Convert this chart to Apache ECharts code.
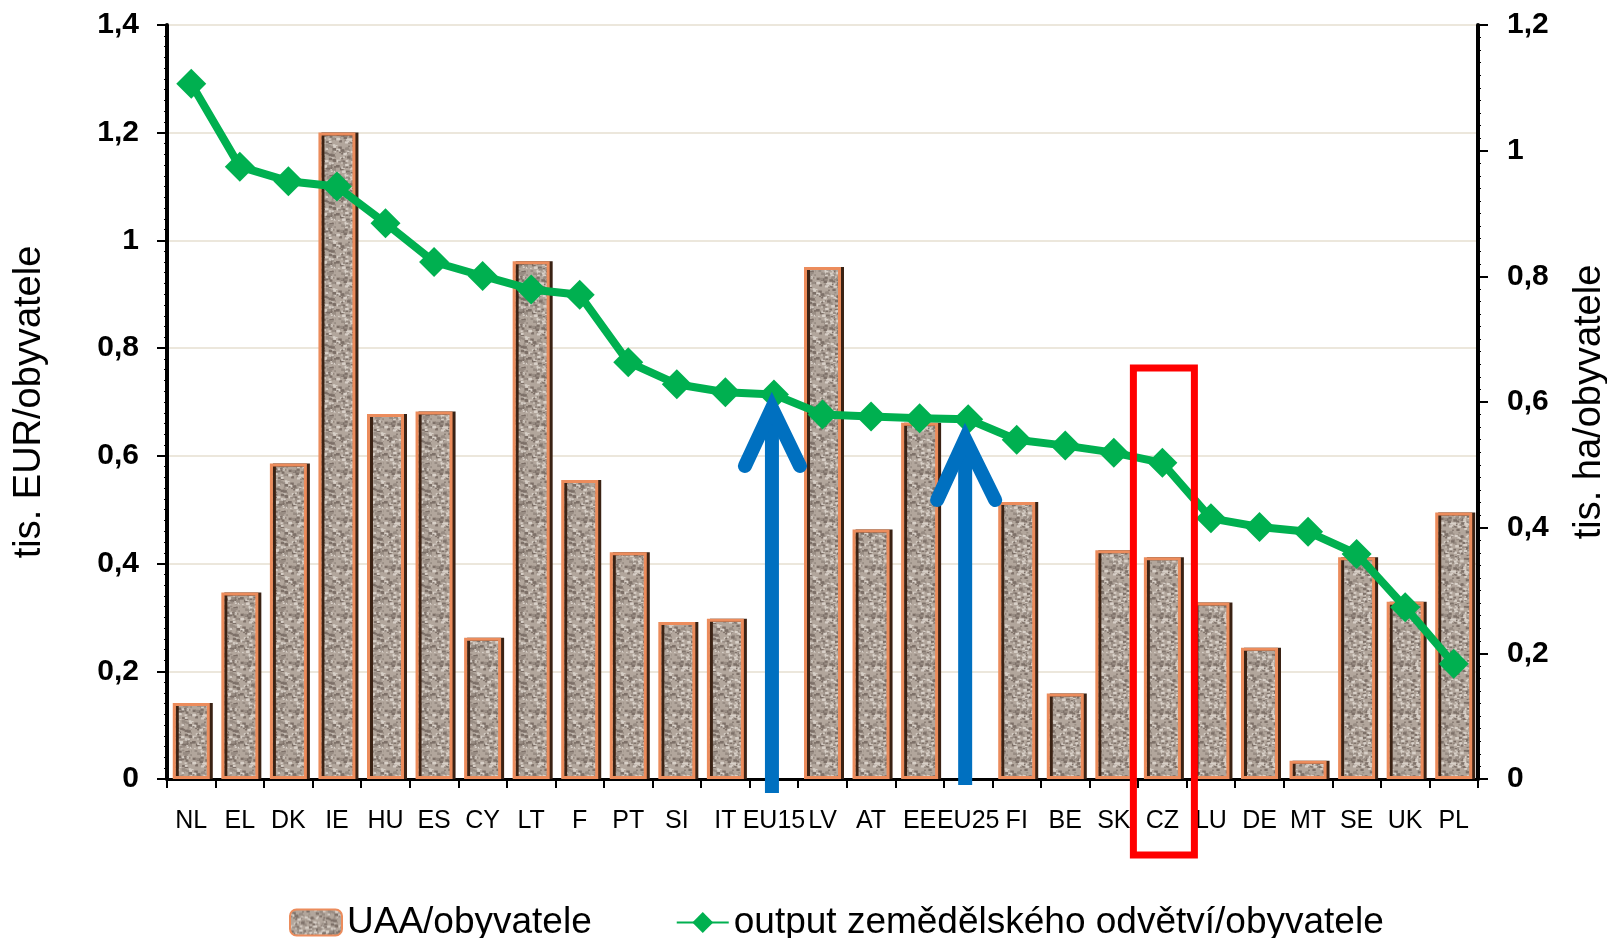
<!DOCTYPE html>
<html>
<head>
<meta charset="utf-8">
<script src="https://cdn.jsdelivr.net/npm/echarts@6/dist/echarts.min.js"></script>
<style>
  html, body { margin: 0; padding: 0; background: #fff; }
  #chart { width: 1607px; height: 938px; }
</style>
</head>
<body>
<div id="chart"></div>
<script>
  // kategorie (státy + průměry EU)
  const countries = ['NL', 'EL', 'DK', 'IE', 'HU', 'ES', 'CY', 'LT', 'F', 'PT', 'SI', 'IT', 'EU15', 'LV', 'AT', 'EE', 'EU25', 'FI', 'BE', 'SK', 'CZ', 'LU', 'DE', 'MT', 'SE', 'UK', 'PL'];
  // UAA/obyvatele (tis. ha/obyvatele, pravá osa)
  const uaa = [0.121, 0.297, 0.502, 1.029, 0.581, 0.585, 0.225, 0.824, 0.476, 0.361, 0.250, 0.255, null, 0.815, 0.397, 0.567, null, 0.441, 0.136, 0.364, 0.353, 0.281, 0.209, 0.029, 0.353, 0.282, 0.424];
  // output zemědělského odvětví/obyvatele (tis. EUR/obyvatele, levá osa)
  const output = [1.291, 1.137, 1.110, 1.100, 1.032, 0.960, 0.934, 0.909, 0.899, 0.774, 0.733, 0.718, 0.714, 0.677, 0.673, 0.670, 0.668, 0.630, 0.619, 0.606, 0.587, 0.484, 0.468, 0.459, 0.418, 0.319, 0.214];
  const leftTicks = { min: 0, max: 1.4, interval: 0.2 };
  const rightTicks = { min: 0, max: 1.2, interval: 0.2 };

  // textura sloupců (zrnitý povrch)
  function makeTexture() {
    const c = document.createElement('canvas');
    c.width = 48; c.height = 48;
    const ctx = c.getContext('2d');
    ctx.fillStyle = '#b2a69c';
    ctx.fillRect(0, 0, 48, 48);
    let s = 11;
    const rnd = () => { s = (s * 16807) % 2147483647; return s / 2147483647; };
    for (let i = 0; i < 340; i++) {
      const x = rnd() * 48, y = rnd() * 48, r = 1 + rnd() * 1.8, t = rnd();
      ctx.fillStyle = t < 0.35 ? '#7d7068' : (t < 0.7 ? '#d8d0c8' : '#988c83');
      ctx.fillRect(x, y, r * 1.4, r);
    }
    return c;
  }
  const texture = makeTexture();

  const fmt = v => String(+v.toFixed(1)).replace('.', ',');
  const font = 'Liberation Sans';

  let chart = echarts.init(document.getElementById('chart'));
  chart.setOption({
    animation: false,
    backgroundColor: '#fff',
    grid: { left: 167, right: 129, top: 25, bottom: 159, outerBoundsMode: 'none', containLabel: false },
    legend: {
      left: 284, top: 899,
      itemWidth: 52, itemHeight: 26, itemGap: 84,
      textStyle: { fontFamily: font, fontSize: 37, color: '#000' },
      data: ['UAA/obyvatele', 'output zemědělského odvětví/obyvatele']
    },
    xAxis: [{
      type: 'category',
      data: countries,
      axisLine: { lineStyle: { color: '#000', width: 3 } },
      axisTick: { show: true, length: 9, lineStyle: { color: '#000', width: 2 } },
      axisLabel: { interval: 0, hideOverlap: false, margin: 30, color: '#000', fontFamily: font, fontSize: 25 }
    }, {
      type: 'category',
      position: 'top',
      data: countries,
      axisLine: { lineStyle: { color: '#000', width: 2, type: [6, 3] } },
      axisTick: { show: false },
      axisLabel: { show: false }
    }],
    yAxis: [{
      type: 'value',
      position: 'left',
      min: leftTicks.min, max: leftTicks.max, interval: leftTicks.interval,
      name: 'tis. EUR/obyvatele',
      nameLocation: 'middle', nameRotate: 90, nameGap: 118,
      nameTextStyle: { fontFamily: font, fontSize: 38, color: '#000' },
      axisLine: { show: true, lineStyle: { color: '#000', width: 4 } },
      axisTick: { show: true, length: 10, lineStyle: { color: '#000', width: 2 } },
      minorTick: { show: true, splitNumber: 10, length: 3, lineStyle: { color: '#000', width: 1 } },
      axisLabel: { margin: 28, color: '#000', fontFamily: font, fontWeight: 'bold', fontSize: 30, formatter: fmt },
      splitLine: { show: true, lineStyle: { color: '#ece7dc', width: 2 } }
    }, {
      type: 'value',
      position: 'right',
      min: rightTicks.min, max: rightTicks.max, interval: rightTicks.interval,
      name: 'tis. ha/obyvatele',
      nameLocation: 'middle', nameRotate: 90, nameGap: 93,
      nameTextStyle: { fontFamily: font, fontSize: 38, color: '#000' },
      axisLine: { show: true, lineStyle: { color: '#000', width: 4 } },
      axisTick: { show: true, length: 10, lineStyle: { color: '#000', width: 2 } },
      minorTick: { show: true, splitNumber: 10, length: 3, lineStyle: { color: '#000', width: 1 } },
      axisLabel: { margin: 29, color: '#000', fontFamily: font, fontWeight: 'bold', fontSize: 30, formatter: fmt },
      splitLine: { show: false }
    }],
    series: [{
      name: 'UAA/obyvatele',
      type: 'bar',
      yAxisIndex: 1,
      barWidth: 37,
      data: uaa,
      itemStyle: {
        color: { image: texture, repeat: 'repeat' },
        borderColor: '#ec8c5c',
        borderWidth: 3,
        shadowColor: '#3a2214',
        shadowOffsetX: 3,
        shadowOffsetY: 0,
        shadowBlur: 0
      }
    }, {
      name: 'output zemědělského odvětví/obyvatele',
      type: 'line',
      yAxisIndex: 0,
      data: output,
      symbol: 'diamond',
      symbolSize: 30,
      lineStyle: { color: '#00b050', width: 8 },
      itemStyle: { color: '#00b050' }
    }]
  });

  // šipky u EU15 a EU25, rámeček u CZ
  const xEU15 = chart.convertToPixel({ xAxisIndex: 0 }, 'EU15') - 2;
  const xEU25 = chart.convertToPixel({ xAxisIndex: 0 }, 'EU25') - 3;
  const xCZ = chart.convertToPixel({ xAxisIndex: 0 }, 'CZ');
  const blue = { stroke: '#0070c0', lineWidth: 14, lineCap: 'round', lineJoin: 'miter', fill: null };
  chart.setOption({
    graphic: [
      { type: 'line', z: 100, shape: { x1: xEU15, y1: 793, x2: xEU15, y2: 420 }, style: Object.assign({}, blue, { lineCap: 'butt' }) },
      { type: 'polyline', z: 100, shape: { points: [[xEU15 - 27, 466], [xEU15, 408], [xEU15 + 28, 466]] }, style: blue },
      { type: 'line', z: 100, shape: { x1: xEU25, y1: 785, x2: xEU25, y2: 450 }, style: Object.assign({}, blue, { lineCap: 'butt' }) },
      { type: 'polyline', z: 100, shape: { points: [[xEU25 - 28, 500], [xEU25, 439], [xEU25 + 30, 500]] }, style: blue },
      { type: 'rect', z: 100, shape: { x: xCZ - 29, y: 368, width: 61, height: 487 }, style: { stroke: '#ff0000', lineWidth: 7, fill: null } }
    ]
  });
</script>
</body>
</html>
